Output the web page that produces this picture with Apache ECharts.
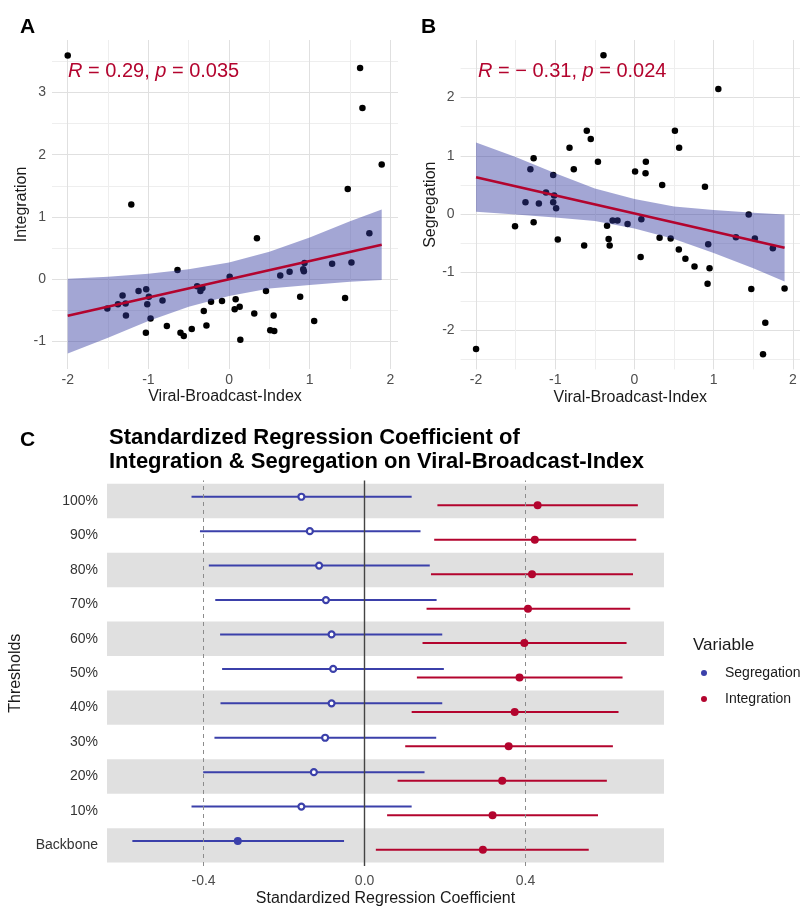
<!DOCTYPE html>
<html><head><meta charset="utf-8">
<script src="https://cdn.jsdelivr.net/npm/echarts@6/dist/echarts.min.js"></script>
<style>html,body{margin:0;padding:0;background:#fff}#c{width:800px;height:908px}</style>
</head><body><div id="c"></div>
<script>
// ---------- Panel A: Integration vs Viral-Broadcast-Index ----------
const intX = [-2.0,1.625,1.654,1.893,1.472,-1.212,0.346,1.740,-0.639,0.008,0.635,0.751,0.920,0.936,0.928,1.278,1.518,
  -1.509,-1.377,-1.320,-1.282,-1.278,-1.122,-1.027,-0.994,-1.014,-0.973,-1.031,-0.825,-0.771,-0.602,-0.561,-0.462,
  -0.396,-0.355,-0.330,-0.313,-0.280,-0.223,-0.087,0.082,0.070,0.132,0.140,0.313,0.458,0.511,0.561,0.553,0.882,1.056,1.439];
const intY = [3.59,3.39,2.75,1.84,1.45,1.20,0.66,0.74,0.15,0.04,0.06,0.12,0.16,0.26,0.13,0.25,0.27,
  -0.47,-0.40,-0.26,-0.39,-0.58,-0.19,-0.16,-0.28,-0.40,-0.63,-0.86,-0.34,-0.75,-0.86,-0.91,-0.80,
  -0.11,-0.19,-0.14,-0.51,-0.74,-0.36,-0.35,-0.32,-0.48,-0.44,-0.97,-0.55,-0.19,-0.82,-0.83,-0.58,-0.28,-0.67,-0.30];
const intFitX = [-2.0, 1.893];
const intFitY = [-0.585, 0.555];
const intBandX = [-2.0,-1.5,-1.0,-0.5,0,0.5,1.0,1.5,1.893];
const intBandUp = [0.01,0.04,0.09,0.16,0.27,0.44,0.67,0.93,1.12];
const intBandLo = [-1.19,-0.94,-0.67,-0.44,-0.27,-0.15,-0.09,-0.04,-0.01];
const intLabel = '{i|R} = 0.29, {i|p} = 0.035';

// ---------- Panel B: Segregation vs Viral-Broadcast-Index ----------
const segX = [-0.391,1.059,-0.602,-0.552,0.511,0.564,-0.820,-1.273,-1.314,-0.766,-0.461,0.144,0.140,0.008,-1.026,0.350,0.890,
  -1.117,-1.014,-1.376,-1.207,-1.026,-0.989,-1.508,-1.273,-0.968,-0.635,-0.346,-0.276,-0.214,-0.326,-0.313,-0.087,0.087,
  0.078,0.317,0.457,0.560,0.643,0.758,0.931,0.948,0.923,1.281,1.442,1.520,1.475,1.747,1.895,1.652,1.623,-2.0];
const segY = [2.73,2.15,1.43,1.29,1.43,1.14,1.14,0.96,0.77,0.77,0.90,0.90,0.70,0.73,0.67,0.50,0.47,
  0.37,0.32,0.20,0.18,0.20,0.10,-0.21,-0.14,-0.44,-0.54,-0.20,-0.11,-0.11,-0.43,-0.54,-0.17,-0.09,
  -0.74,-0.41,-0.42,-0.61,-0.77,-0.90,-0.52,-0.93,-1.20,-0.40,-0.01,-0.42,-1.29,-0.59,-1.28,-1.87,-2.41,-2.32];
const segFitX = [-2.0, 1.895];
const segFitY = [0.63, -0.58];
const segBandX = [-2.0,-1.5,-1.0,-0.5,0,0.5,1.0,1.5,1.895];
const segBandUp = [1.23,0.98,0.70,0.44,0.26,0.13,0.07,0.02,-0.01];
const segBandLo = [0.04,-0.01,-0.06,-0.12,-0.25,-0.43,-0.67,-0.93,-1.16];
const segLabel = '{i|R} = \u2212 0.31, {i|p} = 0.024';

const scatTicks = [-2,-1,0,1,2];
const scatMinor = [-1.5,-0.5,0.5,1.5];
const intYTicks = [-1,0,1,2,3];
const intYMinor = [-0.5,0.5,1.5,2.5,3.5];
const segYTicks = [-2,-1,0,1,2];
const segYMinor = [-2.5,-1.5,-0.5,0.5,1.5,2.5];

// ---------- Panel C: coefficients ----------
const thresholds = ['100%','90%','80%','70%','60%','50%','40%','30%','20%','10%','Backbone'];
const segEst = [-0.157,-0.136,-0.113,-0.096,-0.082,-0.078,-0.082,-0.098,-0.126,-0.157,-0.315];
const segLo  = [-0.430,-0.409,-0.387,-0.371,-0.359,-0.354,-0.358,-0.373,-0.401,-0.430,-0.577];
const segHi  = [0.117,0.139,0.162,0.179,0.193,0.197,0.193,0.178,0.149,0.117,-0.051];
const segSig = [false,false,false,false,false,false,false,false,false,false,true];
const intEst = [0.430,0.423,0.416,0.406,0.397,0.385,0.373,0.358,0.342,0.318,0.294];
const intLo  = [0.181,0.173,0.165,0.154,0.144,0.130,0.117,0.101,0.082,0.056,0.028];
const intHi  = [0.679,0.675,0.667,0.660,0.651,0.641,0.631,0.617,0.602,0.580,0.557];
const intSig = [true,true,true,true,true,true,true,true,true,true,true];
const coefTicks = [-0.4, 0, 0.4];
const refLines = [-0.4, 0.4];

// ---------- styling ----------
const FONT = 'Liberation Sans';
const BLUE = '#3b40aa';
const RED = '#b3042e';
const BAND = 'rgba(52,58,160,0.45)';
const TXT = '#1a1a1a';
const TICK = '#4d4d4d';
const DODGE = 0.125;

const zip = (a, b) => a.map((v, i) => [v, b[i]]);
const nRows = thresholds.length;
const rowPos = i => nRows - 1 - i;

function scatterAxis(grid, min, max, ticks, minor, isX, name, nameGap, labelMargin) {
  const major = {
    type: 'value', gridIndex: grid, min, max,
    axisLine: {show: false}, axisTick: {show: false, customValues: ticks},
    axisLabel: {customValues: ticks, color: TICK, fontSize: 14, margin: labelMargin, fontFamily: FONT},
    splitLine: {show: true, lineStyle: {color: '#e0e0e0', width: 1}},
    name, nameLocation: 'middle', nameGap,
    nameTextStyle: {fontSize: 16, color: TXT, fontFamily: FONT}
  };
  const mnr = {
    type: 'value', gridIndex: grid, min, max, position: isX ? 'bottom' : 'left',
    axisLine: {show: false}, axisTick: {show: false, customValues: minor},
    axisLabel: {show: false, customValues: minor},
    splitLine: {show: true, lineStyle: {color: '#eeeeee', width: 1}}
  };
  return [major, mnr];
}

function ribbon(xi, yi, xs, up, lo) {
  return {
    type: 'custom', xAxisIndex: xi, yAxisIndex: yi, z: 3, silent: true,
    data: [[xs[0], up[0]]],
    renderItem: (params, api) => {
      const pts = [];
      for (let i = 0; i < xs.length; i++) pts.push(api.coord([xs[i], up[i]]));
      for (let i = xs.length - 1; i >= 0; i--) pts.push(api.coord([xs[i], lo[i]]));
      return {type: 'polygon', shape: {points: pts}, style: {fill: BAND}};
    }
  };
}

function points(xi, yi, xs, ys) {
  return {type: 'scatter', xAxisIndex: xi, yAxisIndex: yi, z: 2, silent: true,
    symbolSize: 6.5, itemStyle: {color: '#000', opacity: 1}, data: zip(xs, ys)};
}

function fit(xi, yi, xs, ys) {
  return {type: 'line', xAxisIndex: xi, yAxisIndex: yi, z: 4, silent: true, showSymbol: false,
    lineStyle: {color: RED, width: 2.6}, data: zip(xs, ys)};
}

function errBars(est, lo, hi, off, color) {
  return {
    type: 'custom', xAxisIndex: 4, yAxisIndex: 4, z: 3, silent: true,
    data: est.map((e, i) => [lo[i], hi[i], rowPos(i) + off]),
    renderItem: (params, api) => {
      const a = api.coord([api.value(0), api.value(2)]);
      const b = api.coord([api.value(1), api.value(2)]);
      return {type: 'line', shape: {x1: a[0], y1: a[1], x2: b[0], y2: b[1]},
        style: {stroke: color, lineWidth: 2}};
    }
  };
}

function coefPoints(name, est, sig, off, color) {
  return {
    name, type: 'scatter', xAxisIndex: 4, yAxisIndex: 4, z: 5, silent: true,
    symbolSize: 8, itemStyle: {color, opacity: 1},
    data: est.map((e, i) => sig[i]
      ? {value: [e, rowPos(i) + off]}
      : {value: [e, rowPos(i) + off], symbolSize: 6, itemStyle: {color: '#fff', borderColor: color, borderWidth: 2.2, opacity: 1}})
  };
}

const bandRows = thresholds.map((t, i) => rowPos(i)).filter(p => p % 2 === 0);

const [axA, axAm] = scatterAxis(0, -2.195, 2.095, scatTicks, scatMinor, true, 'Viral-Broadcast-Index', 20, 4);
const [ayA, ayAm] = scatterAxis(0, -1.44, 3.84, intYTicks, intYMinor, false, 'Integration', 20, 6);
const [axB, axBm] = scatterAxis(1, -2.195, 2.09, scatTicks, scatMinor, true, 'Viral-Broadcast-Index', 20, 4);
const [ayB, ayBm] = scatterAxis(1, -2.67, 2.99, segYTicks, segYMinor, false, 'Segregation', 19, 6);

const annot = (x, text) => ({
  type: 'text', x, y: 71, z: 10, silent: true,
  style: {text, fontSize: 20, fill: RED, fontFamily: FONT, verticalAlign: 'middle',
    stroke: null, lineWidth: 0, textBorderWidth: 0,
    rich: {i: {fontStyle: 'italic', fontSize: 20, fill: RED, fontFamily: FONT, textBorderWidth: 0}}}
});
const letter = (left, top, t) => ({type: 'text', left, top, silent: true,
  style: {text: t, fill: '#000', font: 'bold 21px ' + FONT, stroke: null, lineWidth: 0}});

const option = {
  animation: false,
  textStyle: {fontFamily: FONT},
  grid: [
    {left: 52, top: 40, width: 346, height: 329},
    {left: 460.6, top: 40, width: 345.8, height: 329.4},
    {left: 107, top: 480.4, width: 557, height: 385.6}
  ],
  title: {
    text: 'Standardized Regression Coefficient of\nIntegration & Segregation on Viral-Broadcast-Index',
    left: 104, top: 421,
    textStyle: {fontSize: 22, fontWeight: 'bold', lineHeight: 24, color: '#000', fontFamily: FONT}
  },
  legend: {
    data: [{name: 'Segregation', icon: 'circle'}, {name: 'Integration', icon: 'circle'}],
    orient: 'vertical', left: 701, top: 666, padding: 0,
    itemWidth: 6, itemHeight: 14, itemGap: 12, selectedMode: false,
    textStyle: {fontSize: 14, color: TXT, fontFamily: FONT, padding: [0, 0, 0, 13]}
  },
  xAxis: [axA, axAm, axB, axBm, {
    type: 'value', gridIndex: 2, min: -0.64, max: 0.744,
    axisLine: {show: false}, axisTick: {show: false, customValues: coefTicks},
    axisLabel: {customValues: coefTicks, color: TICK, fontSize: 14, margin: 8, formatter: v => v.toFixed(1)},
    splitLine: {show: false},
    name: 'Standardized Regression Coefficient', nameLocation: 'middle', nameGap: 25,
    nameTextStyle: {fontSize: 16, color: TXT}
  }],
  yAxis: [ayA, ayAm, ayB, ayBm, {
    type: 'value', gridIndex: 2, min: -0.6, max: nRows - 1 + 0.6,
    axisLine: {show: false}, axisTick: {show: false, customValues: thresholds.map((t, i) => rowPos(i))},
    axisLabel: {customValues: thresholds.map((t, i) => rowPos(i)), color: '#333', fontSize: 14, margin: 9,
      formatter: v => thresholds[nRows - 1 - Math.round(v)]},
    splitLine: {show: false},
    name: 'Thresholds', nameLocation: 'middle', nameGap: 83,
    nameTextStyle: {fontSize: 16, color: TXT}
  }],
  series: [
    points(0, 0, intX, intY),
    ribbon(0, 0, intBandX, intBandUp, intBandLo),
    fit(0, 0, intFitX, intFitY),
    points(2, 2, segX, segY),
    ribbon(2, 2, segBandX, segBandUp, segBandLo),
    fit(2, 2, segFitX, segFitY),
    {
      type: 'custom', xAxisIndex: 4, yAxisIndex: 4, z: 1, silent: true,
      data: bandRows.map(p => [0, p]),
      renderItem: (params, api) => {
        const cs = params.coordSys;
        const t = api.coord([0, api.value(1) + 0.5])[1];
        const b = api.coord([0, api.value(1) - 0.5])[1];
        return {type: 'rect', shape: {x: cs.x, y: t, width: cs.width, height: b - t}, style: {fill: '#e0e0e0'}};
      },
      markLine: {
        silent: true, symbol: 'none', label: {show: false}, animation: false,
        data: [
          {xAxis: 0, lineStyle: {color: '#444', type: 'solid', width: 1.4}},
          ...refLines.map(v => ({xAxis: v, lineStyle: {color: '#8c8c8c', type: [4, 4], width: 1}}))
        ]
      }
    },
    errBars(segEst, segLo, segHi, DODGE, BLUE),
    errBars(intEst, intLo, intHi, -DODGE, RED),
    coefPoints('Segregation', segEst, segSig, DODGE, BLUE),
    coefPoints('Integration', intEst, intSig, -DODGE, RED)
  ],
  graphic: [
    letter(20, 17, 'A'),
    letter(421, 17, 'B'),
    letter(20, 430, 'C'),
    annot(68, intLabel),
    annot(478, segLabel),
    {type: 'text', x: 693, y: 645, silent: true,
      style: {text: 'Variable', fontSize: 17, fill: TXT, fontFamily: FONT, verticalAlign: 'middle', stroke: null, lineWidth: 0}}
  ]
};

const chart = echarts.init(document.getElementById('c'), null, {renderer: 'canvas'});
chart.setOption(option);
</script>
</body></html>
